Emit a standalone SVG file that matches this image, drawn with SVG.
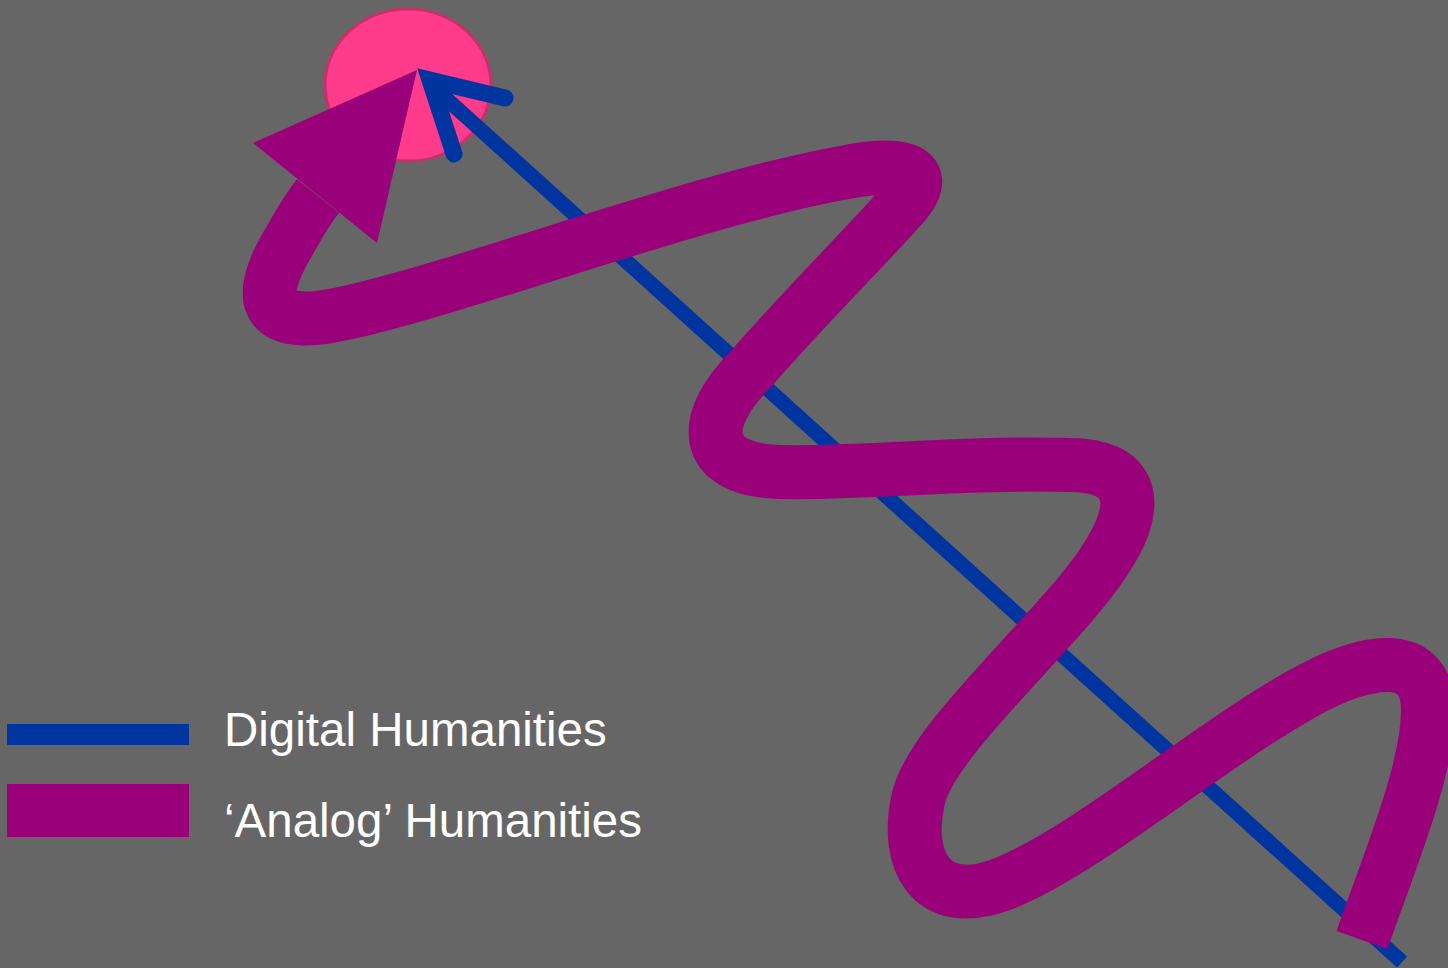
<svg xmlns="http://www.w3.org/2000/svg" width="1448" height="968" viewBox="0 0 1448 968">
<style>
.lbl{font-family:"Liberation Sans",Arial,sans-serif;font-size:47.5px;fill:#ffffff}
.blue{stroke:#0035a0;fill:none;stroke-linecap:round;stroke-linejoin:round}
.mag{stroke:#9b007b;fill:none}
</style>
<rect x="0" y="0" width="1448" height="968" fill="#666666"/>
<g id="goal">
<ellipse cx="408" cy="85" rx="83" ry="76" fill="#ff3b8c" stroke="#c8306a" stroke-width="3"/>
</g>
<g id="connectors">
<g id="digital">
<line class="blue" x1="1402" y1="962" x2="430" y2="84" stroke-width="15" style="stroke-linecap:butt"/>
<path class="blue" d="M 505 98 L 430 80 L 454 154" stroke-width="17" style="stroke-linejoin:miter;stroke-miterlimit:10"/>
</g>
<g id="analog">
<path class="mag" stroke-width="54" d="M 1362 940 C 1390 860, 1428 770, 1428 710 C 1428 650, 1370 655, 1300 695 C 1200 752, 1080 855, 1000 885 C 930 910, 905 860, 918 800 C 930 740, 1060 630, 1105 560 C 1145 500, 1130 465, 1070 465 C 960 462, 860 474, 780 472 C 700 470, 700 420, 750 370 C 800 312, 880 232, 907 200 C 932 168, 897 162, 847 172 C 700 198, 480 282, 350 312 C 268 332, 250 305, 290 240 C 300 222, 310 206, 318 196"/>
<polygon points="253,143 417,70 377,243" fill="#9b007b"/>
</g>
</g>
<g id="legend">
<rect x="7" y="724" width="182" height="21" fill="#0035a0"/>
<rect x="7" y="784" width="182" height="53" fill="#9b007b"/>
<text class="lbl" x="224" y="746">Digital Humanities</text>
<text class="lbl" x="224" y="837">‘Analog’ Humanities</text>
</g>
</svg>
